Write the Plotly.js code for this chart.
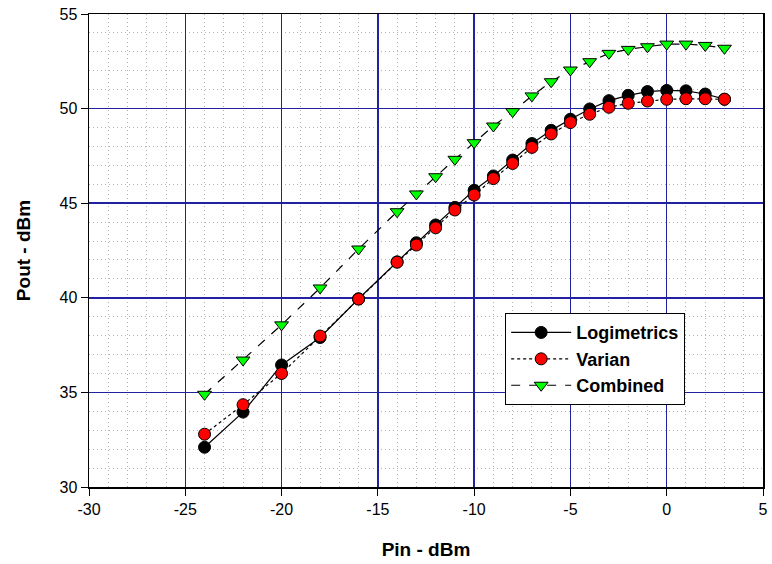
<!DOCTYPE html>
<html>
<head>
<meta charset="utf-8">
<script src="https://cdn.plot.ly/plotly-3.0.1.min.js"></script>
<style>html,body{margin:0;padding:0;background:#fff}#chart{width:772px;height:564px}</style>
</head>
<body>
<div id="chart"></div>
<script>
const pinValues = [-24, -22, -20, -18, -16, -14, -13, -12, -11, -10, -9, -8, -7, -6, -5, -4, -3, -2, -1, 0, 1, 2, 3];
const logimetrics = [32.1, 33.96, 36.45, 37.9, 39.95, 41.9, 42.91, 43.85, 44.78, 45.68, 46.44, 47.28, 48.15, 48.85, 49.44, 49.98, 50.42, 50.7, 50.9, 50.96, 50.94, 50.77, 50.5];
const varian = [32.79, 34.35, 36.0, 37.98, 39.93, 41.88, 42.79, 43.7, 44.64, 45.43, 46.3, 47.1, 47.95, 48.66, 49.26, 49.7, 50.07, 50.28, 50.4, 50.49, 50.52, 50.52, 50.49];
const combined = [34.9, 36.71, 38.57, 40.52, 42.58, 44.55, 45.49, 46.4, 47.32, 48.2, 49.08, 49.84, 50.67, 51.42, 52.04, 52.48, 52.92, 53.13, 53.27, 53.41, 53.41, 53.34, 53.19];
const seriesNames = ["Logimetrics", "Varian", "Combined"];
const xTickVals = [-30, -25, -20, -15, -10, -5, 0, 5];
const xTickText = ["-30", "-25", "-20", "-15", "-10", "-5", "0", "5"];
const yTickVals = [30, 35, 40, 45, 50, 55];
const yTickText = ["30", "35", "40", "45", "50", "55"];

const traces = [
  {x: pinValues, y: logimetrics, name: seriesNames[0], mode: "lines+markers",
   line: {color: "#000", width: 1.2, dash: "solid"},
   marker: {symbol: "circle", size: 12, color: "#000", line: {color: "#000", width: 1}}},
  {x: pinValues, y: varian, name: seriesNames[1], mode: "lines+markers",
   line: {color: "#000", width: 1.2, dash: "dot"},
   marker: {symbol: "circle", size: 12, color: "#ff0000", line: {color: "#000", width: 1}}},
  {x: pinValues, y: combined, name: seriesNames[2], mode: "lines+markers",
   line: {color: "#000", width: 1.2, dash: "dash"},
   marker: {symbol: "triangle-down", size: 12, color: "#00ff00", line: {color: "#000", width: 1}}}
];

const font = {family: "Liberation Sans, Arial, sans-serif", color: "#000"};
const minorGrid = {dtick: 1, showgrid: true, gridcolor: "#b4b4b4", griddash: "1px,3px", gridwidth: 1, ticks: ""};
const layout = {
  width: 772, height: 564,
  margin: {l: 89, r: 9, t: 14, b: 77},
  paper_bgcolor: "#fff", plot_bgcolor: "#fff",
  font: Object.assign({size: 16}, font),
  showlegend: true,
  legend: {x: 0.617, y: 0.368, xanchor: "left", yanchor: "top",
    bgcolor: "#fff", bordercolor: "#000", borderwidth: 1.3,
    font: Object.assign({size: 18, weight: "bold"}, font),
    tracegroupgap: 0, itemwidth: 60},
  xaxis: {
    range: [-30, 5], tickmode: "array", tickvals: xTickVals, ticktext: xTickText,
    showline: true, linecolor: "#000", linewidth: 1.5, mirror: true,
    ticks: "outside", ticklen: 7, tickcolor: "#000", tickwidth: 1,
    showgrid: true, gridcolor: "#2222a0", gridwidth: 1.5,
    minor: Object.assign({tick0: -30}, minorGrid),
    zeroline: false,
    tickfont: Object.assign({size: 16}, font),
    title: {text: "Pin - dBm", font: Object.assign({size: 19, weight: "bold"}, font), standoff: 26}
  },
  yaxis: {
    range: [30, 55], tickmode: "array", tickvals: yTickVals, ticktext: yTickText,
    showline: true, linecolor: "#000", linewidth: 1.5, mirror: true,
    ticks: "outside", ticklen: 7, tickcolor: "#000", tickwidth: 1,
    showgrid: true, gridcolor: "#2222a0", gridwidth: 1.5,
    minor: Object.assign({tick0: 30}, minorGrid),
    zeroline: false,
    tickfont: Object.assign({size: 16}, font),
    title: {text: "Pout - dBm", font: Object.assign({size: 19, weight: "bold"}, font), standoff: 24}
  }
};

Plotly.newPlot("chart", traces, layout, {displayModeBar: false, staticPlot: true});
</script>
</body>
</html>
